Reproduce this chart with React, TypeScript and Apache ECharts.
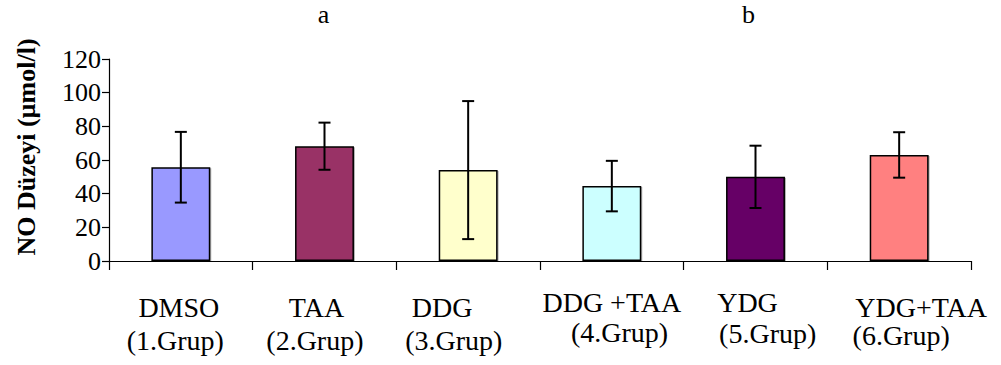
import React, { useEffect, useRef } from "react";
import * as echarts from "echarts";

// Groups and their NO measurements (mean ± SD)
const categories = ["DMSO", "TAA", "DDG", "DDG +TAA", "YDG", "YDG+TAA"];
const groupLabels = ["(1.Grup)", "(2.Grup)", "(3.Grup)", "(4.Grup)", "(5.Grup)", "(6.Grup)"];
const means = [55.7, 68.2, 54, 44.5, 50, 63];
const errors = [21, 14, 41, 15, 18.5, 13.5];
const barColors = ["#9999FF", "#993366", "#FFFFCC", "#CCFFFF", "#660066", "#FF8080"];
const yTicks = { min: 0, max: 120, interval: 20 };
const significance = [
  { index: 1, text: "a" },
  { index: 4, text: "b" },
];

// Hand-placed offsets of the two label lines under each category (relative to the category centre / axis line)
const nameDx = [-2, -8, -26, 0, -8, 22];
const nameDy = [46, 46, 46, 41, 41, 46];
const groupDx = [-5.5, -9.6, -14.4, 7.7, 12.2, 2];
const groupDy = [79.5, 79.5, 79.5, 71, 72, 74.5];
const letterDx = [-1, -7];

const FONT = "Liberation Serif";

export default function App() {
  const ref = useRef<HTMLDivElement>(null);

  useEffect(() => {
    if (!ref.current) return;
    const chart = echarts.init(ref.current, undefined, { renderer: "svg" });

    const option: any = {
      animation: false,
      backgroundColor: "#ffffff",
      textStyle: { fontFamily: FONT },
      grid: { left: 109, right: 30, top: 59, bottom: 104, containLabel: false },
      xAxis: {
        type: "category",
        data: categories,
        boundaryGap: true,
        axisLine: { show: true, lineStyle: { color: "#000", width: 1.2 } },
        axisTick: { show: true, inside: false, length: 9, alignWithLabel: false, lineStyle: { color: "#000", width: 1.2 } },
        axisLabel: { show: false },
        splitLine: { show: false },
      },
      yAxis: {
        type: "value",
        min: yTicks.min,
        max: yTicks.max,
        interval: yTicks.interval,
        axisLine: { show: true, lineStyle: { color: "#000", width: 1.2 } },
        axisTick: { show: true, inside: false, length: 7, lineStyle: { color: "#000", width: 1.2 } },
        axisLabel: { color: "#000", fontFamily: FONT, fontSize: 26, margin: 8 },
        splitLine: { show: false },
      },
      series: [
        {
          type: "bar",
          barWidth: "41%",
          data: means.map((v, i) => ({ value: v, itemStyle: { color: barColors[i] } })),
          itemStyle: {
            borderColor: "#000",
            borderWidth: 1.5,
            shadowColor: "rgba(0,0,0,0.3)",
            shadowOffsetX: 1,
            shadowOffsetY: 1,
            shadowBlur: 1,
          },
          z: 2,
        },
        {
          type: "custom",
          z: 3,
          data: means.map((m, i) => [i, m, errors[i]]),
          encode: { x: 0, y: 1 },
          renderItem: (_params: any, api: any) => {
            const idx = api.value(0);
            const m = api.value(1);
            const e = api.value(2);
            const top = api.coord([idx, m + e]);
            const bot = api.coord([idx, m - e]);
            const hw = 6;
            const st = { stroke: "#000", lineWidth: 2 };
            return {
              type: "group",
              children: [
                { type: "line", shape: { x1: top[0], y1: top[1], x2: bot[0], y2: bot[1] }, style: st },
                { type: "line", shape: { x1: top[0] - hw, y1: top[1], x2: top[0] + hw, y2: top[1] }, style: st },
                { type: "line", shape: { x1: bot[0] - hw, y1: bot[1], x2: bot[0] + hw, y2: bot[1] }, style: st },
              ],
            };
          },
        },
      ],
    };

    chart.setOption(option);

    const textStyle = (text: string, size: number, bold = false) => ({
      text,
      fill: "#000",
      fontFamily: FONT,
      fontSize: size,
      fontWeight: bold ? "bold" : "normal",
      align: "center",
      verticalAlign: "middle",
    });

    // Category labels, significance letters and axis title placed from the axis scales
    const axisY = chart.convertToPixel({ yAxisIndex: 0 }, 0) as number;
    const elements: any[] = [];
    categories.forEach((name, i) => {
      const cx = chart.convertToPixel({ xAxisIndex: 0 }, name) as number;
      elements.push({ type: "text", x: cx + nameDx[i], y: axisY + nameDy[i], style: textStyle(name, 28) });
      elements.push({ type: "text", x: cx + groupDx[i], y: axisY + groupDy[i], style: textStyle(groupLabels[i], 28) });
    });
    significance.forEach((s, k) => {
      const cx = chart.convertToPixel({ xAxisIndex: 0 }, categories[s.index]) as number;
      elements.push({ type: "text", x: cx + letterDx[k], y: 14, style: textStyle(s.text, 26) });
    });
    elements.push({
      type: "text",
      x: 26,
      y: 147,
      rotation: Math.PI / 2,
      style: textStyle("NO Düzeyi (µmol/l)", 26, true),
    });
    chart.setOption({ graphic: { elements } });

    return () => chart.dispose();
  }, []);

  return (
    <div
      ref={ref}
      style={{ position: "fixed", left: 0, top: 0, width: 1001, height: 365, background: "#fff" }}
    />
  );
}
